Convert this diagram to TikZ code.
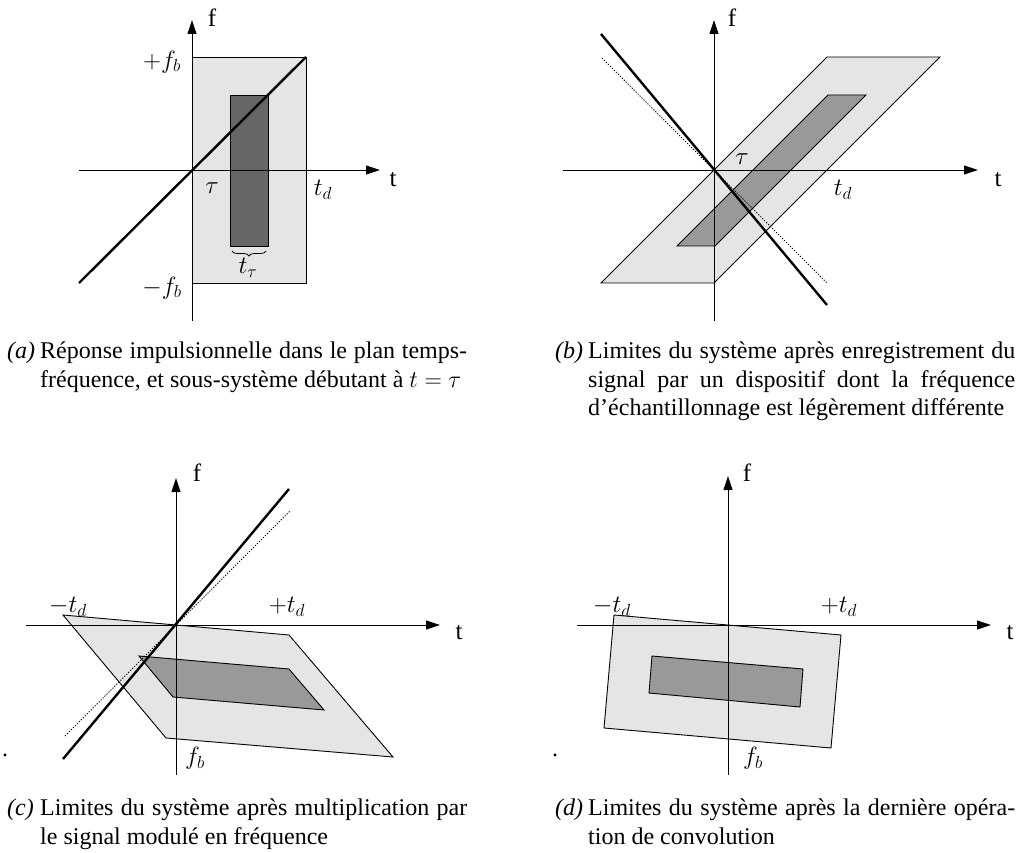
\RequirePackage{fix-cm}
\documentclass[tikz,border=0pt]{standalone}
\usepackage[no-math]{fontspec}
\setmainfont{Liberation Serif}
\usetikzlibrary{arrows.meta,decorations.pathreplacing}
\definecolor{lightbox}{gray}{0.9}
\definecolor{darkboxa}{gray}{0.4}
\definecolor{darkbox}{gray}{0.6}
\tikzset{
  axis/.style={line width=0.9pt,-{Triangle[length=14pt,width=9pt]}},
  region/.style={draw=black,line width=0.9pt,line join=miter},
  chirp/.style={line width=2.4pt},
  guide/.style={line width=1pt,dash pattern=on 1.2pt off 1.6pt},
  mlabel/.style={inner sep=0pt,font=\fontsize{25}{30}\selectfont},
  axlabel/.style={inner sep=0pt,font=\fontsize{25}{30}\selectfont},
  capbody/.style={inner sep=0pt,anchor=base west,text width=427pt,align=justify,
    font=\fontsize{24}{29}\selectfont},
  caplabel/.style={inner sep=0pt,anchor=base west,font=\fontsize{24}{29}\selectfont\itshape},
  dotmark/.style={inner sep=0pt,font=\fontsize{24}{29}\selectfont}
}
\begin{document}
\begin{tikzpicture}[x=1pt,y=-1pt]
\useasboundingbox (0,0) rectangle (1018,853);
% ---------------- (a)
\coordinate (aL) at (79,170);
\coordinate (aR) at (380,170);
\coordinate (aB) at (192,321);
\coordinate (aT) at (192,20);
\filldraw[region,fill=lightbox] (192,57) rectangle (306,283);
\filldraw[region,fill=darkboxa] (230,95) rectangle (268,246);
\draw[axis] (aL) -- (aR);
\draw[axis] (aB) -- (aT);
\coordinate (aC1) at (79,283);
\coordinate (aC2) at (306,57);
\draw[chirp] (aC1) -- (aC2);
\coordinate (aBr1) at (232,251);
\coordinate (aBr2) at (266,251);
\draw[line width=0.8pt,decorate,decoration={brace,amplitude=5pt,mirror}] (aBr1) -- (aBr2);
\node[mlabel] (afp) at (162,62) {$+f_b$};
\node[mlabel] (afm) at (162,288) {$-f_b$};
\node[mlabel] (atau) at (212,188) {$\tau$};
\node[mlabel] (atd) at (323,190) {$t_d$};
\node[mlabel] (attau) at (248,268) {$t_\tau$};
\node[axlabel] (at) at (393,180) {t};
\node[axlabel] (af) at (212,18) {f};
% ---------------- (b)
\coordinate (bL) at (563,170);
\coordinate (bR) at (978,170);
\coordinate (bB) at (714,321);
\coordinate (bT) at (714,20);
\filldraw[region,fill=lightbox] (601,283) -- (714,283) -- (940,57) -- (827,57) -- cycle;
\filldraw[region,fill=darkbox] (677,246) -- (715,246) -- (866,95) -- (828,95) -- cycle;
\draw[axis] (bL) -- (bR);
\draw[axis] (bB) -- (bT);
\coordinate (bC1) at (601,34);
\coordinate (bC2) at (827,305);
\draw[chirp] (bC1) -- (bC2);
\coordinate (bD1) at (602,58);
\coordinate (bD2) at (827,283);
\draw[guide] (bD1) -- (bD2);
\node[mlabel] (btau) at (742,159) {$\tau$};
\node[mlabel] (btd) at (843,190) {$t_d$};
\node[axlabel] (bt) at (998,180) {t};
\node[axlabel] (bf) at (732,18) {f};
% ---------------- (c)
\coordinate (cL) at (26,625);
\coordinate (cR) at (440,625);
\coordinate (cB) at (176,775);
\coordinate (cT) at (176,478);
\filldraw[region,fill=lightbox] (63,615) -- (289,635) -- (393,757) -- (166,738) -- cycle;
\filldraw[region,fill=darkbox] (139,656) -- (289,669) -- (324,710) -- (173,697) -- cycle;
\draw[axis] (cL) -- (cR);
\draw[axis] (cB) -- (cT);
\coordinate (cC1) at (63,759);
\coordinate (cC2) at (289,489);
\draw[chirp] (cC1) -- (cC2);
\coordinate (cD1) at (65,736);
\coordinate (cD2) at (290,511);
\draw[guide] (cD1) -- (cD2);
\node[mlabel] (ctdm) at (68,607) {$-t_d$};
\node[mlabel] (ctdp) at (287,607) {$+t_d$};
\node[mlabel] (cfb) at (195,758) {$f_b$};
\node[axlabel] (ct) at (459,633) {t};
\node[axlabel] (cf) at (197,473) {f};
\node[dotmark] (cdot) at (5,755) {.};
% ---------------- (d)
\coordinate (dL) at (577,625);
\coordinate (dR) at (991,625);
\coordinate (dB) at (728,775);
\coordinate (dT) at (728,476);
\filldraw[region,fill=lightbox] (614,615) -- (841,635) -- (831,748) -- (604,728) -- cycle;
\filldraw[region,fill=darkbox] (652,656) -- (803,669) -- (800,707) -- (649,693) -- cycle;
\draw[axis] (dL) -- (dR);
\draw[axis] (dB) -- (dT);
\node[mlabel] (dtdm) at (612,607) {$-t_d$};
\node[mlabel] (dtdp) at (839,607) {$+t_d$};
\node[mlabel] (dfb) at (753,758) {$f_b$};
\node[axlabel] (dt) at (1010,633) {t};
\node[axlabel] (df) at (747,473) {f};
\node[dotmark] (ddot) at (555,755) {.};
% ---------------- captions
\node[caplabel] (capal) at (7,358) {(a)};
\node[capbody] (capa) at (40,358) {Réponse impulsionnelle dans le plan temps-\linebreak fréquence, et sous-système débutant à $t=\tau$};
\node[caplabel] (capbl) at (555,358) {(b)};
\node[capbody] (capb) at (588,358) {Limites du système après enregistrement du\linebreak signal par un dispositif dont la fréquence\linebreak d’échantillonnage est légèrement différente};
\node[caplabel] (capcl) at (7,815) {(c)};
\node[capbody] (capc) at (40,815) {Limites du système après multiplication par\linebreak le signal modulé en fréquence};
\node[caplabel] (capdl) at (555,815) {(d)};
\node[capbody] (capd) at (588,815) {Limites du système après la dernière opéra-\linebreak tion de convolution};
\end{tikzpicture}
\end{document}
